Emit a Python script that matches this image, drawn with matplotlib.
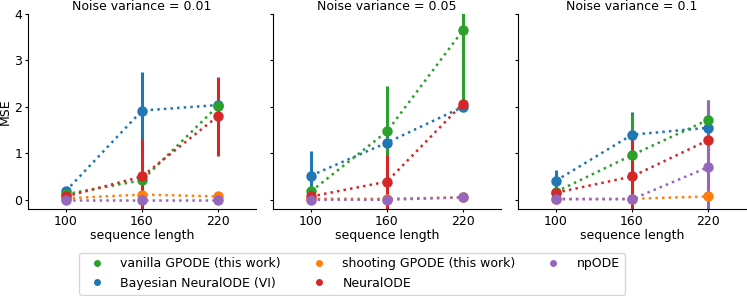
import numpy as np
import matplotlib.pyplot as plt

seq_lengths = ["100", "160", "220"]
noise_levels = ["0.01", "0.05", "0.1"]
methods = ["vanilla GPODE (this work)", "Bayesian NeuralODE (VI)",
           "shooting GPODE (this work)", "NeuralODE", "npODE"]
colors = {"vanilla GPODE (this work)": "tab:green",
          "Bayesian NeuralODE (VI)": "tab:blue",
          "shooting GPODE (this work)": "tab:orange",
          "NeuralODE": "tab:red",
          "npODE": "tab:purple"}

# mean MSE per noise level, one list per method (100, 160, 220)
mse_001 = {"Bayesian NeuralODE (VI)": [0.19, 1.92, 2.04],
           "vanilla GPODE (this work)": [0.12, 0.42, 2.02],
           "shooting GPODE (this work)": [0.03, 0.11, 0.07],
           "NeuralODE": [0.07, 0.50, 1.80],
           "npODE": [0.0, 0.0, 0.0]}
mse_005 = {"Bayesian NeuralODE (VI)": [0.52, 1.23, 2.00],
           "vanilla GPODE (this work)": [0.18, 1.47, 3.65],
           "shooting GPODE (this work)": [0.02, 0.02, 0.05],
           "NeuralODE": [0.07, 0.39, 2.07],
           "npODE": [0.0, 0.0, 0.05]}
mse_01 = {"Bayesian NeuralODE (VI)": [0.41, 1.40, 1.55],
          "vanilla GPODE (this work)": [0.17, 0.96, 1.72],
          "shooting GPODE (this work)": [0.02, 0.02, 0.07],
          "NeuralODE": [0.15, 0.50, 1.28],
          "npODE": [0.01, 0.01, 0.70]}

# half width of the error bars
err_001 = {"Bayesian NeuralODE (VI)": [0.09, 0.83, 0.02],
           "vanilla GPODE (this work)": [0.04, 0.06, 0.05],
           "shooting GPODE (this work)": [0.02, 0.04, 0.07],
           "NeuralODE": [0.03, 0.80, 0.85],
           "npODE": [0.0, 0.0, 0.0]}
err_005 = {"Bayesian NeuralODE (VI)": [0.52, 0.08, 0.03],
           "vanilla GPODE (this work)": [0.12, 0.99, 1.60],
           "shooting GPODE (this work)": [0.02, 0.03, 0.02],
           "NeuralODE": [0.04, 0.58, 0.06],
           "npODE": [0.0, 0.0, 0.02]}
err_01 = {"Bayesian NeuralODE (VI)": [0.22, 0.49, 0.12],
          "vanilla GPODE (this work)": [0.06, 0.89, 0.43],
          "shooting GPODE (this work)": [0.01, 0.01, 0.03],
          "NeuralODE": [0.08, 0.86, 0.30],
          "npODE": [0.01, 0.01, 1.45]}

means = [mse_001, mse_005, mse_01]
errs = [err_001, err_005, err_01]
draw_order = ["Bayesian NeuralODE (VI)", "vanilla GPODE (this work)",
              "shooting GPODE (this work)", "NeuralODE", "npODE"]

plt.rcParams["font.size"] = 9

fig = plt.figure(figsize=(7.47, 2.96), dpi=100)
lefts = [28, 273, 518]
axes = []
for i in range(3):
    ax = fig.add_axes([lefts[i] / 747, 1 - 209 / 296, 228 / 747, 195 / 296],
                      sharey=axes[0] if axes else None)
    axes.append(ax)
    x = np.arange(len(seq_lengths))
    for m in draw_order:
        ax.errorbar(x, means[i][m], yerr=errs[i][m], color=colors[m],
                    linestyle=":", linewidth=1.8, marker="o", markersize=6.5,
                    elinewidth=2.2, capsize=0)
    ax.set_xticks(x)
    ax.set_xticklabels(seq_lengths)
    ax.set_xlim(-0.5, 2.5)
    ax.set_title(f"Noise variance = {noise_levels[i]}", fontsize=9, pad=3)
    ax.set_xlabel("sequence length", fontsize=9, labelpad=1)
    ax.tick_params(labelsize=9, length=2, pad=2)
    ax.spines["top"].set_visible(False)
    ax.spines["right"].set_visible(False)
    if i > 0:
        ax.tick_params(labelleft=False)

axes[0].set_ylim(-0.2, 4)
axes[0].set_yticks([0, 1, 2, 3, 4])
axes[0].set_ylabel("MSE", fontsize=9)
axes[0].yaxis.set_label_coords(-0.07, 0.5)

handles = [plt.Line2D([], [], color=colors[m], marker="o", linestyle="",
                      markersize=4) for m in methods]
fig.legend(handles, methods, ncol=3, loc="lower center",
           bbox_to_anchor=(352 / 747, 0.0), borderaxespad=0.1, fontsize=9,
           frameon=True, columnspacing=2.0, handletextpad=0.9)

fig.savefig("out.png", dpi=100)
